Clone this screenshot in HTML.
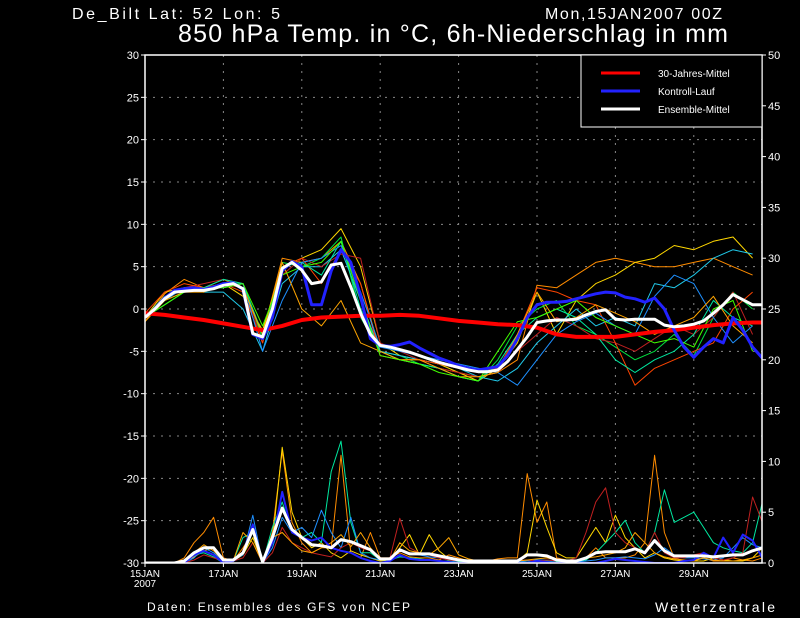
<!DOCTYPE html>
<html><head><meta charset="utf-8"><style>
html,body{margin:0;padding:0;background:#000;}
svg{display:block;font-family:"Liberation Sans",sans-serif;}
</style></head><body>
<svg id="chart" width="800" height="618" viewBox="0 0 800 618" xmlns="http://www.w3.org/2000/svg">
<rect width="800" height="618" fill="#000"/>
<defs><clipPath id="plotclip"><rect x="145" y="55" width="617" height="508"/></clipPath></defs>
<text x="72" y="19" fill="#fff" font-size="16" textLength="208" lengthAdjust="spacing">De_Bilt  Lat: 52 Lon: 5</text>
<text x="545" y="19" fill="#fff" font-size="16" textLength="177" lengthAdjust="spacing">Mon,15JAN2007 00Z</text>
<text x="178" y="42" fill="#fff" font-size="25" textLength="550" lengthAdjust="spacing">850 hPa Temp. in °C, 6h-Niederschlag in mm</text>
<g id="grid"></g>
<g id="series" clip-path="url(#plotclip)"></g>
<g id="axes"></g>
<g>
<rect x="581" y="55" width="181" height="72" fill="#000" stroke="#fff" stroke-width="1"/>
<line x1="601" y1="73" x2="640" y2="73" stroke="#ff0000" stroke-width="3"/>
<text x="658" y="77" fill="#fff" font-size="10">30-Jahres-Mittel</text>
<line x1="601" y1="91" x2="640" y2="91" stroke="#2222ff" stroke-width="3"/>
<text x="658" y="95" fill="#fff" font-size="10">Kontroll-Lauf</text>
<line x1="601" y1="109" x2="640" y2="109" stroke="#fff" stroke-width="3"/>
<text x="658" y="113" fill="#fff" font-size="10">Ensemble-Mittel</text>
</g>
<text x="147" y="611" fill="#fff" font-size="12" textLength="263" lengthAdjust="spacing">Daten: Ensembles des GFS von NCEP</text>
<text x="655" y="612" fill="#fff" font-size="14" textLength="120" lengthAdjust="spacing">Wetterzentrale</text>
</svg>
<script>
// ---- data ----
const leftTicks = [-30,-25,-20,-15,-10,-5,0,5,10,15,20,25,30];
const rightTicks = [0,5,10,15,20,25,30,35,40,45,50];
const dateLabels = ["15JAN","17JAN","19JAN","21JAN","23JAN","25JAN","27JAN","29JAN"];
const dateDays = [0,2,4,6,8,10,12,14];
// temperature, 6h steps
const meanTemp = [-1,0,1.2,2,2.1,2.2,2.2,2.4,2.8,3,2.4,-2.9,-3.3,0,4.8,5.5,4.6,3,3.2,5.2,5.4,2.6,-0.5,-3,-4.3,-4.5,-4.8,-5.1,-5.5,-5.9,-6.3,-6.6,-6.9,-7.2,-7.4,-7.4,-7.2,-6.2,-4.8,-3.3,-1.6,-1.4,-1.3,-1.3,-1.2,-0.7,-0.3,-0.1,-1.2,-1.3,-1.2,-1.2,-1.2,-1.9,-2.1,-2,-1.8,-1.4,-0.5,0.5,1.7,1.1,0.5,0.5];
const controlTemp = [-1,0,1.3,2.2,2.4,2.5,2.3,2.6,3,3.1,2.3,-3,-3.5,-1,4.5,5.6,5,0.5,0.5,4.5,7,5.5,1.5,-3.5,-4.3,-4.4,-4.2,-3.9,-4.6,-5.2,-5.8,-6.2,-6.7,-7,-7.2,-7,-6.8,-5.5,-3.5,-1,0.5,0.8,0.8,0.9,1.2,1.5,1.8,2,1.9,1.4,1.2,0.8,1.3,0,-2.5,-4.5,-5.7,-4.5,-3.5,-4,-1,-2.5,-4.5,-5.8];
// climate, 12h steps
const climateTemp = [-0.5,-0.7,-1,-1.3,-1.7,-2.1,-2.5,-2.0,-1.3,-1.0,-0.9,-0.8,-0.8,-0.7,-0.8,-1.1,-1.4,-1.6,-1.8,-1.9,-2.2,-3.0,-3.3,-3.3,-3.3,-3.0,-2.7,-2.5,-2.2,-1.9,-1.7,-1.6,-1.6];
// members, 12h steps
const memberColors = ["#ff8c00","#ffd700","#00e040","#20c8e8","#c02020","#ff4500","#00e8a0","#1e90ff","#ffa500","#40ff00"];
const memberTemp1 = [-1.5,1.8,3.5,2.5,3.5,2.5,-3,6,5.5,6,8,3,-5,-6,-6.5,-7,-7.5,-8,-7.5,-6,2.8,2.5,4,5.5,6,5.5,5,5,5.5,6,5,4];
const memberTemp2 = [-1,2,2.5,2,3,1.5,-2.5,5,6,7,9.5,5,-4,-5.5,-6,-6.5,-7.5,-8.5,-7,-4,2,-3,1,3,4,5.5,6,7.5,7,8,8.5,6];
const memberTemp3 = [-1,1,2,2.5,3,3,-3.5,5.5,5,6,8.5,-1,-5,-5.5,-6.5,-7,-8,-8.5,-6,-2,0,1,-2,-3,-4.5,-6,-5,-3,-5.5,-1,2,0];
const memberTemp4 = [-1,1.5,2.5,2,2,0,-5,3,5,5,7,1,-5,-5.5,-6,-6.5,-7,-8,-8.5,-7,-4,-2,0,-2,-1,-2,3,2.5,4,6,7,6.5];
const memberTemp5 = [-1,1,2.5,3,3.5,3,-4,4,6,5,6.5,6,-4,-5,-6,-7,-7.5,-8,-7.5,-5,-3,-1,-2,-3.5,-4,-5,-3.5,-2,-3,-1,2,-3];
const memberTemp6 = [-0.5,2,3,2.5,3,2,-4,5,6,3,7,3,-5.5,-6,-6,-6.5,-7,-7.5,-7,-3,2.5,2,1,0.5,-4,-9,-7,-6,-5,-4,0,2];
const memberTemp7 = [-1,0.5,2,2.5,3.5,3,-3,5,5.5,4,8,0,-5,-6,-6.5,-7,-8,-8.5,-6.5,-3,-1,0,-1,-3,-6,-7.5,-6,-5,-3,1,-1,-2];
const memberTemp8 = [-1,1,2.5,2.5,2.5,3,-5,1,5.5,6,7.5,2,-4.5,-5,-5.5,-6,-6.5,-7,-7.5,-9,-6,-3,-1.5,-0.5,-2,-3,1.5,4,3,-1,-4,-2];
const memberTemp9 = [-1.5,1,2,2,3,2.5,-3,5.5,0,-2,1,-4,-5,-6,-6,-7,-8,-8,-7.5,-3,2,-1.5,-1,0.5,-0.5,-1.5,-3,-2,-1,1.5,-2,-4];
const memberTemp10 = [-1,0.5,2,2.5,2.5,3,-2,4,5,5.5,8,1,-5.5,-6,-6.5,-7.5,-8,-8.5,-5,-1.5,-1,0,1,-1,-2,-3,-4,-3.5,-4.5,0,1,-5];
// precipitation, 6h steps
const meanPrecip = [0,0,0,0,0.2,1,1.5,1.5,0.3,0.3,1,3.3,0.1,2.5,5.4,3.3,2.5,1.8,1.7,1.5,2.3,2.1,1.7,1.3,0.4,0.4,1.3,0.9,0.9,0.9,0.7,0.5,0.3,0.2,0.2,0.2,0.2,0.2,0.2,0.8,0.8,0.7,0.3,0.2,0.2,0.5,1,1.1,1.1,1.1,1.4,1,2.2,1.2,0.7,0.7,0.7,0.7,0.6,0.7,0.8,0.8,1.2,1.5];
const controlPrecip = [0,0,0,0,0,0.8,1.2,0.8,0,0.2,1,3.8,0,2,7,3,2.5,2.2,2.5,1.5,1.2,1,0.5,0.2,0,0.2,0.8,0.4,0.3,0.3,0.2,0.1,0,0,0,0,0,0,0,0,0.2,0.1,0,0,0,0,0,0.2,0.4,0.3,0.2,0.1,0,0,0,0.2,0.3,1,0.5,2.5,1,2.8,2.2,0.5];
const memberPrecip1 = [0,0,0,0,0.5,2,3,4.5,0.5,0.2,1.5,3,0,3,11,4,2,1,1.5,1.5,10.6,1,0.5,3,0.5,0.5,1,0.6,0.5,0.5,0.3,0.8,0.5,0.2,0.1,0.2,0.4,0.5,0.5,8.8,4,6,0.5,0.3,0.2,0.5,1.5,0.5,0.5,0.5,0.8,2,10.6,3,0.5,0.2,0.3,0.5,0.2,0.2,0.5,0.3,0.2,0.5];
const memberPrecip2 = [0,0,0,0,0,0.6,1.2,1.5,0.2,0.2,0.8,2.5,0,2,11.4,5,2.5,1.5,2,1,0.5,1.2,0.8,0.5,0.2,0.3,1.5,2.8,0.8,2.8,1.2,0.4,0.2,0.2,0.2,0.1,0.2,0.2,0.2,1,6.2,3.5,1,0.5,0.5,2,3.5,2,4.7,2.5,1.5,0.5,1,0.5,0.3,0.2,0.2,0.2,0.5,0.3,0.2,0.2,0.5,1.5];
const memberPrecip3 = [0,0,0,0,0,0.8,1,0.6,0,0.2,2.5,3,0,3.5,6,3,2.5,3,2,9,12,4,1,1,0.3,0.3,0.6,0.5,0.4,0.3,0.2,0.2,0.1,0.1,0.1,0.1,0.1,0.1,0.1,0.2,0.3,0.2,0.1,0.1,0.1,0.3,1,2,3,4.2,2,1,3,7.2,4,4.5,5,3.5,2,1.5,1.2,1,2,6];
const memberPrecip4 = [0,0,0,0,0,0.5,1.5,1,0.2,0.3,0.8,4.7,0,1.5,4.5,3,3.5,2.5,5.2,3,1.5,4.5,1,0.5,0.3,0.4,1.2,1,0.8,0.6,0.5,0.3,0.2,0.2,0.2,0.1,0.1,0.1,0.1,0.2,0.3,0.3,0.2,0.1,0.1,0.2,0.3,0.5,0.5,0.6,0.5,0.4,0.8,1.5,0.8,0.5,0.5,0.4,0.3,0.5,1.5,2.5,1.8,1.5];
const memberPrecip5 = [0,0,0,0,0,0.3,0.8,0.5,0.2,0.2,0.5,2,0,1,3.5,2,1.5,1,0.8,0.6,1.5,2,1.5,1.2,0.3,0.5,4.4,1.5,1,0.8,0.5,0.3,0.2,0.3,0.2,0.2,0.2,0.2,0.2,0.3,0.2,0.3,0.2,0.2,0.5,3,6,7.4,3,2,1.5,1,3,1,0.5,0.5,0.8,1,0.5,0.3,0.5,1,6.5,4];
const memberPrecip6 = [0,0,0,0,0.3,1,1.8,1.2,0.2,0.2,3,2,0,2.5,3,2,1.2,1,1.5,2,2.8,1.6,3,1.5,0.4,0.3,2,1.2,1,0.8,1.5,2.5,0.8,0.4,0.2,0.2,0.3,0.2,0.2,0.3,0.4,0.5,0.3,0.2,0.2,0.5,0.6,0.8,1,1.5,3,2,1,0.6,0.4,0.3,0.2,0.5,0.3,0.2,0.2,0.3,0.5,0.8];
const precipColors = ["#ff8c00","#ffd700","#00e8a0","#1e90ff","#c02020","#ffa500"];

// ---- scales ----
const X0 = 145, PX_PER_DAY = 39.2, YTOP = 55, YBOT = 563;
function xDay(d){ return X0 + d*PX_PER_DAY; }
function xStep6(i){ return xDay(i*0.25); }
function xStep12(i){ return xDay(i*0.5); }
function yTemp(v){ return YBOT - (v+30)*(YBOT-YTOP)/60; }
function yPrecip(v){ return YBOT - v*(YBOT-YTOP)/50; }

const NS = "http://www.w3.org/2000/svg";
const gridG = document.getElementById('grid');
const axesG = document.getElementById('axes');
const seriesG = document.getElementById('series');

function mk(tag, attrs, parent){
  const el = document.createElementNS(NS, tag);
  for (const k in attrs) el.setAttribute(k, attrs[k]);
  parent.appendChild(el);
  return el;
}
function line(vals, xf, yf, color, w, name){
  const pts = vals.map((v,i)=>xf(i).toFixed(1)+','+yf(v).toFixed(1)).join(' ');
  const el = mk('polyline', {points:pts, fill:'none', stroke:color, 'stroke-width':w, 'stroke-linejoin':'round'}, seriesG);
  
  
}

// grid
leftTicks.forEach(t=>{
  if (t===-30 || t===30) return;
  const el = mk('line', {x1:X0, x2:762, y1:yTemp(t), y2:yTemp(t), stroke:'#888', 'stroke-width':1, 'stroke-dasharray':'2,6'}, gridG);
  
  
});
dateDays.forEach(d=>{
  if (d===0) return;
  const el = mk('line', {x1:xDay(d), x2:xDay(d), y1:YTOP, y2:YBOT, stroke:'#888', 'stroke-width':1, 'stroke-dasharray':'2,6'}, gridG);
  
  
});

// members temperature
const memberTemps = [memberTemp1,memberTemp2,memberTemp3,memberTemp4,memberTemp5,memberTemp6,memberTemp7,memberTemp8,memberTemp9,memberTemp10];
memberTemps.forEach((arr,k)=>line(arr, xStep12, yTemp, memberColors[k], 1, 'member-temp-'+(k+1)));
// member precip
const memberPrecips = [memberPrecip1,memberPrecip2,memberPrecip3,memberPrecip4,memberPrecip5,memberPrecip6];
memberPrecips.forEach((arr,k)=>line(arr, xStep6, yPrecip, precipColors[k], 1, 'member-precip-'+(k+1)));
line(controlPrecip, xStep6, yPrecip, '#2222ff', 2, 'control-precip');
line(meanPrecip, xStep6, yPrecip, '#fff', 3, 'mean-precip');
line(climateTemp, xStep12, yTemp, '#ff0000', 4, 'climate-temp');
line(controlTemp, xStep6, yTemp, '#2222ff', 3, 'control-temp');
line(meanTemp, xStep6, yTemp, '#fff', 3, 'mean-temp');

// axes frame
const frame = mk('rect', {x:X0, y:YTOP, width:762-X0, height:YBOT-YTOP, fill:'none', stroke:'#fff', 'stroke-width':1.5}, axesG);


leftTicks.forEach(t=>{
  const y = yTemp(t);
  const tk = mk('line', {x1:X0-4, x2:X0, y1:y, y2:y, stroke:'#fff'}, axesG);
  
  
  const tx = mk('text', {x:X0-6, y:y+4, fill:'#fff', 'font-size':11, 'text-anchor':'end'}, axesG);
  tx.textContent = t;
  
  
});
rightTicks.forEach(t=>{
  const y = yPrecip(t);
  const tk = mk('line', {x1:762, x2:766, y1:y, y2:y, stroke:'#fff'}, axesG);
  
  
  const tx = mk('text', {x:768, y:y+4, fill:'#fff', 'font-size':11}, axesG);
  tx.textContent = t;
  
  
});
dateLabels.forEach((lab,i)=>{
  const x = xDay(dateDays[i]);
  const tk = mk('line', {x1:x, x2:x, y1:YBOT, y2:YBOT+4, stroke:'#fff'}, axesG);
  
  
  const tx = mk('text', {x:x, y:577, fill:'#fff', 'font-size':10, 'text-anchor':'middle'}, axesG);
  tx.textContent = lab;
  
  
});
const yr = mk('text', {x:X0, y:587, fill:'#fff', 'font-size':10, 'text-anchor':'middle'}, axesG);
yr.textContent = '2007';


</script>
</body></html>
